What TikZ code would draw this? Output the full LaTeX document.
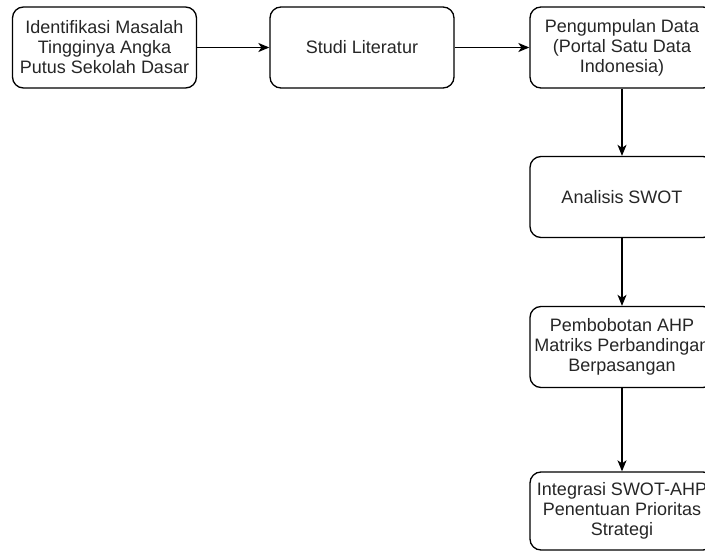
\documentclass[tikz,border=0pt]{standalone}
\usepackage{fontspec}
\setmainfont{Liberation Sans}
\usetikzlibrary{arrows.meta}
\begin{document}
\begin{tikzpicture}[x=1pt,y=-1pt,
  box/.style={draw=black,line width=1.3pt,rounded corners=11pt,minimum width=184pt,minimum height=81pt,
    align=center,inner sep=0pt,font=\fontsize{18}{20}\selectfont,text=black!85},
  arr/.style={line width=1.3pt,-{Stealth[length=11pt,width=9pt,inset=3pt]}}]
\useasboundingbox (0,0) rectangle (705,551);
\clip (0,0) rectangle (705,551);
\node[box] (b1) at (104.5,47.5) {Identifikasi Masalah\\Tingginya Angka\\Putus Sekolah Dasar};
\node[box] (b2) at (362,47.5) {Studi Literatur};
\node[box] (b3) at (622,47.5) {Pengumpulan Data\\(Portal Satu Data\\Indonesia)};
\node[box] (b4) at (622,197) {Analisis SWOT};
\node[box] (b5) at (622,347) {Pembobotan AHP\\Matriks Perbandingan\\Berpasangan};
\node[box,minimum height=78pt] (b6) at (622,511) {Integrasi SWOT-AHP\\Penentuan Prioritas\\Strategi};
\draw[arr] (b1) -- (b2);
\draw[arr] (b2) -- (b3);
\draw[arr] (b3) -- (b4);
\draw[arr] (b4) -- (b5);
\draw[arr] (b5) -- (b6);
\end{tikzpicture}
\end{document}
